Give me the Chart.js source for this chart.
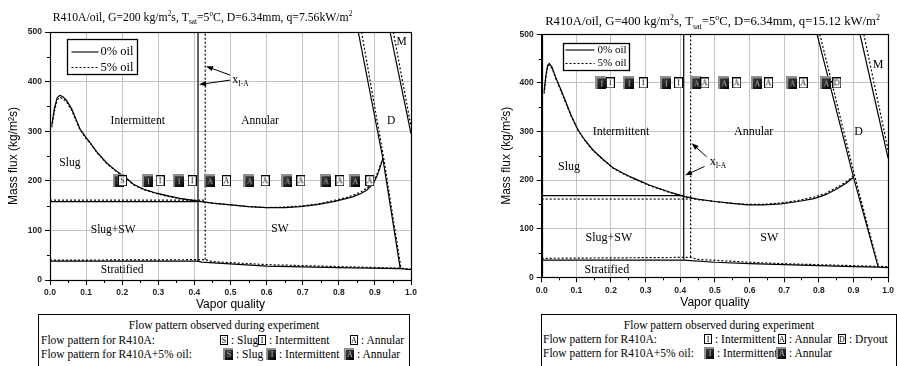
<!DOCTYPE html>
<html>
<head>
<meta charset="utf-8">
<script src="https://cdn.jsdelivr.net/npm/chart.js@4.4.1/dist/chart.umd.min.js"></script>
<style>
  body { margin:0; width:897px; height:366px; overflow:hidden; background:#fff; position:relative; }
  .panel { position:absolute; top:0; height:313px; }
  .key { position:absolute; top:314px; height:60px; border:1px solid #000; box-sizing:border-box;
         font:11.5px "Liberation Serif", serif; line-height:14px; color:#000; background:#fff; }
  .key div, .key span, .key canvas { position:absolute; white-space:nowrap; }
</style>
</head>
<body>
<div class="panel" style="left:0;width:450px"><canvas id="c200"></canvas></div>
<div class="panel" style="left:450px;width:447px"><canvas id="c400"></canvas></div>
<div class="key" id="k200" style="left:38px;width:372px"></div>
<div class="key" id="k400" style="left:541px;width:356px"></div>
<script>
// ---- G = 200 kg/m2s (left map) ----
var g200Trans0 = [[0.005,312],[0.012,345],[0.02,368],[0.027,372],[0.035,370],[0.046,362],[0.06,345],[0.083,305],[0.1,287],[0.111,277],[0.13,258],[0.157,236],[0.18,222],[0.212,205],[0.231,193],[0.26,183],[0.295,175],[0.33,169],[0.36,164.5],[0.41,159],[0.45,155],[0.508,151],[0.55,148],[0.6,146],[0.65,146],[0.692,148],[0.74,152],[0.785,158],[0.82,164],[0.84,168],[0.86,174],[0.877,181],[0.895,194],[0.905,208],[0.915,228],[0.922,245]];
var g200Trans5 = [[0.005,308],[0.012,340],[0.02,363],[0.027,368],[0.035,366],[0.046,359],[0.06,342],[0.083,303],[0.1,285],[0.111,276],[0.13,257],[0.157,235],[0.18,221],[0.212,204],[0.231,192],[0.26,182],[0.295,174],[0.33,168],[0.36,164],[0.41,159],[0.45,155],[0.508,151],[0.55,148],[0.6,146],[0.65,147],[0.692,149],[0.74,153],[0.785,160],[0.82,166],[0.84,171],[0.86,177],[0.877,185],[0.895,198],[0.905,212],[0.915,232],[0.924,248]];
var g200Dry0 = [[0.854,500],[0.922,245],[0.97,24]];
var g200Dry5 = [[0.863,500],[0.925,243],[0.972,25]];
var g200Mist0 = [[0.942,500],[1.0,295]];
var g200Mist5 = [[0.951,500],[1.0,310]];
var g200IA0 = [[0.41,37],[0.41,500]];
var g200IA5 = [[0.43,41],[0.43,500]];
var g200SlugSW0 = [[0,158],[0.41,158]];
var g200SlugSW5 = [[0,161],[0.43,161]];
var g200Strat0 = [[0,38],[0.41,38],[0.42,36],[0.6,28],[0.8,25],[0.97,23],[1.0,21]];
var g200Strat5 = [[0,40],[0.43,41],[0.45,37],[0.6,31],[0.8,27],[0.97,24],[1.0,22]];
var g200PureX = [0.201,0.305,0.394,0.489,0.596,0.695,0.803,0.886];
var g200PureObs = ['S','I','I','A','A','A','A','A'];
var g200OilX = [0.189,0.27,0.355,0.441,0.551,0.656,0.762,0.843];
var g200OilObs = ['S','I','I','A','A','A','A','A'];

// ---- G = 400 kg/m2s (right map) ----
var g400Trans0 = [[0.007,382],[0.012,415],[0.017,436],[0.022,440],[0.03,432],[0.04,412],[0.052,392],[0.07,360],[0.085,333],[0.105,303],[0.125,282],[0.148,262],[0.175,244],[0.205,226],[0.235,214],[0.262,205],[0.31,190],[0.367,176],[0.414,166],[0.45,161],[0.5,156],[0.55,152],[0.595,149],[0.64,149],[0.69,151],[0.74,156],[0.786,162],[0.82,170],[0.853,182],[0.88,194],[0.9,206]];
var g400Trans5 = [[0.007,378],[0.012,411],[0.017,432],[0.022,437],[0.03,430],[0.04,410],[0.052,390],[0.07,358],[0.085,332],[0.105,302],[0.125,281],[0.148,261],[0.175,243],[0.205,225],[0.235,213],[0.262,204],[0.31,189],[0.367,175],[0.414,165],[0.45,160],[0.5,156],[0.55,152],[0.595,150],[0.64,150],[0.69,153],[0.74,158],[0.786,165],[0.82,173],[0.853,185],[0.88,197],[0.902,210]];
var g400Dry0 = [[0.795,500],[0.9,206],[0.971,22]];
var g400Dry5 = [[0.803,500],[0.903,210],[0.972,23]];
var g400Mist0 = [[0.919,500],[1.0,245]];
var g400Mist5 = [[0.93,500],[1.0,262]];
var g400IA0 = [[0.41,36],[0.41,500]];
var g400IA5 = [[0.43,41],[0.43,500]];
var g400SlugSW0 = [[0,168],[0.41,168]];
var g400SlugSW5 = [[0,161],[0.43,161]];
var g400Strat0 = [[0,35.5],[0.41,35.5],[0.5,31],[0.6,28],[0.7,26],[0.8,24],[0.9,22],[0.97,21],[1.0,20]];
var g400Strat5 = [[0,39],[0.43,41],[0.45,37],[0.5,35],[0.6,31],[0.7,28],[0.8,26],[0.9,24],[1.0,22]];
var g400PureX = [0.198,0.293,0.395,0.471,0.563,0.655,0.755,0.852];
var g400PureObs = ['I','I','I','A','A','A','A','D'];
var g400OilX = [0.171,0.25,0.357,0.445,0.525,0.62,0.722,0.819];
var g400OilObs = ['I','I','I','A','A','A','A','A'];

var xTicks = [0,0.1,0.2,0.3,0.4,0.5,0.6,0.7,0.8,0.9,1.0];
var yTicks = [0,100,200,300,400,500];

var SERIF = '"Liberation Serif", "Times New Roman", serif';
var SANS = '"Liberation Sans", Arial, sans-serif';

// little square flow-pattern symbol
function makeIcon(letter, dark, w, h){
  var c = document.createElement('canvas');
  c.width = w; c.height = h;
  var x = c.getContext('2d');
  if(dark){
    x.fillStyle = '#909090'; x.fillRect(0,0,w,h);
    var g = x.createLinearGradient(2,2,w,h);
    g.addColorStop(0,'#404040'); g.addColorStop(1,'#000');
    x.fillStyle = g; x.fillRect(2,2,w-2,h-2);
    x.fillStyle = '#b8b8b8';
  }else{
    x.fillStyle = '#fff'; x.fillRect(0,0,w,h);
    x.strokeStyle = '#000'; x.lineWidth = 1; x.strokeRect(0.5,0.5,w-1,h-1);
    x.fillStyle = '#000';
  }
  x.font = '8px ' + SERIF;
  x.textAlign = 'center'; x.textBaseline = 'middle';
  x.fillText(letter, w/2 + (dark ? 1 : 0), h/2 + (dark ? 1 : 0.5));
  return c;
}

function lineSet(pts, dotted){
  return {
    data: pts.map(function(p){ return {x:p[0], y:p[1]}; }),
    showLine: true, borderColor:'#000', borderWidth: 1.2,
    borderDash: dotted ? [2,2] : [], pointRadius:0, tension:0, fill:false
  };
}
function markSet(xs, letters, yv, dark){
  return {
    data: xs.map(function(v){ return {x:v, y:yv}; }),
    showLine:false, pointRadius:5,
    pointStyle: letters.map(function(l){ return dark ? makeIcon(l, true, 11, 13) : makeIcon(l, false, 9, 11); })
  };
}

// draw text made of parts with sub/superscripts
function rich(ctx, parts, x, y, size, align){
  var widths = parts.map(function(p){
    ctx.font = (p.sub || p.sup ? size*0.62 : size) + 'px ' + SERIF;
    return ctx.measureText(p.t).width;
  });
  var total = widths.reduce(function(a,b){ return a+b; }, 0);
  var cx = align === 'center' ? x - total/2 : x;
  ctx.textAlign = 'left'; ctx.textBaseline = 'alphabetic';
  parts.forEach(function(p, i){
    ctx.font = (p.sub || p.sup ? size*0.62 : size) + 'px ' + SERIF;
    var dy = p.sup ? -size*0.42 : (p.sub ? size*0.28 : 0);
    ctx.fillText(p.t, cx, y + dy);
    cx += widths[i];
  });
  return total;
}

function arrow(ctx, x1, y1, x2, y2){
  var ang = Math.atan2(y2-y1, x2-x1), L = 7, W = 2.6;
  ctx.beginPath(); ctx.moveTo(x1,y1); ctx.lineTo(x2 - Math.cos(ang)*L*0.8, y2 - Math.sin(ang)*L*0.8); ctx.stroke();
  ctx.beginPath();
  ctx.moveTo(x2,y2);
  ctx.lineTo(x2 - Math.cos(ang)*L - Math.sin(ang)*W, y2 - Math.sin(ang)*L + Math.cos(ang)*W);
  ctx.lineTo(x2 - Math.cos(ang)*L + Math.sin(ang)*W, y2 - Math.sin(ang)*L - Math.cos(ang)*W);
  ctx.closePath(); ctx.fill();
}

var decor = {
  id:'decor',
  afterDraw: function(chart, args, o){
    var ctx = chart.ctx, a = chart.chartArea, sx = chart.scales.x, sy = chart.scales.y;
    var px = function(v){ return sx.getPixelForValue(v); }, py = function(v){ return sy.getPixelForValue(v); };
    ctx.save();
    ctx.strokeStyle = '#000'; ctx.fillStyle = '#000'; ctx.lineWidth = 1;
    // minor ticks
    ctx.beginPath();
    for(var i = 0; i < xTicks.length-1; i++){
      var mx = Math.round(px((xTicks[i]+xTicks[i+1])/2)) + 0.5;
      ctx.moveTo(mx, a.bottom); ctx.lineTo(mx, a.bottom+3);
    }
    for(var j = 0; j < yTicks.length-1; j++){
      var my = Math.round(py((yTicks[j]+yTicks[j+1])/2)) + 0.5;
      ctx.moveTo(a.left, my); ctx.lineTo(a.left-3, my);
    }
    ctx.stroke();
    // frame
    ctx.lineWidth = 1.2;
    ctx.strokeRect(Math.round(a.left)+0.5, Math.round(a.top)+0.5, Math.round(a.right-a.left), Math.round(a.bottom-a.top));
    // region names
    ctx.textAlign = 'center'; ctx.textBaseline = 'middle';
    ctx.font = o.labelSize + 'px ' + SERIF;
    o.labels.forEach(function(l){ ctx.fillText(l[0], px(l[1]), py(l[2])); });
    // x_I-A pointer
    ctx.lineWidth = 1;
    o.arrows.forEach(function(r){ arrow(ctx, px(r[0]), py(r[1]), px(r[2]), py(r[3])); });
    rich(ctx, [{t:'x'},{t:'I-A',sub:true}], px(o.xia[0]), py(o.xia[1]), 12, 'left');
    // line key inside the plot
    var k = o.key, lx = Math.round(a.left + k.dx) + 0.5, ly = Math.round(a.top + k.dy) + 0.5;
    ctx.fillStyle = '#fff'; ctx.fillRect(lx, ly, k.w, k.h);
    ctx.lineWidth = 1.3; ctx.strokeRect(lx, ly, k.w, k.h);
    ctx.lineWidth = 1.1;
    ctx.beginPath(); ctx.moveTo(lx+k.l0, ly+k.r1); ctx.lineTo(lx+k.l1, ly+k.r1); ctx.stroke();
    ctx.setLineDash([2,2]);
    ctx.beginPath(); ctx.moveTo(lx+k.l0, ly+k.r2); ctx.lineTo(lx+k.l1, ly+k.r2); ctx.stroke();
    ctx.setLineDash([]);
    ctx.fillStyle = '#000'; ctx.textAlign = 'left'; ctx.textBaseline = 'middle';
    ctx.font = k.size + 'px ' + SERIF;
    ctx.fillText('0% oil', lx+k.tx, ly+k.r1);
    ctx.fillText('5% oil', lx+k.tx, ly+k.r2);
    // heading, scaled to the measured width
    var w = rich(ctx, o.title, -9999, -9999, 12, 'left');
    rich(ctx, o.title, o.titleX, o.titleY, 12 * o.titleW / w, 'center');
    ctx.restore();
  }
};

function mapChart(id, sets, pad, yw, xh, tpad, deco){
  var tickFont = {family: SANS, size: 8.5, weight:'bold'};
  return new Chart(document.getElementById(id), {
    type:'scatter',
    data:{ datasets: sets },
    options:{
      responsive:true, maintainAspectRatio:false, animation:false,
      layout:{ padding: pad },
      plugins:{ legend:{display:false}, tooltip:{enabled:false}, decor: deco },
      scales:{
        x:{ type:'linear', min:0, max:1,
            afterBuildTicks: function(s){ s.ticks = xTicks.map(function(v){ return {value:v}; }); },
            ticks:{ callback:function(v){ return v.toFixed(1); }, font:tickFont, color:'#222', padding:3, maxRotation:0, autoSkip:false },
            grid:{ color:'#c3c3c3', tickColor:'#000', tickLength:5 },
            border:{ color:'#000' },
            title:{ display:true, text:'Vapor quality', font:{family:SANS, size:12}, color:'#000', padding:{top:0, bottom:tpad} },
            afterFit: function(s){ s.height = xh; } },
        y:{ type:'linear', min:0, max:500,
            afterBuildTicks: function(s){ s.ticks = yTicks.map(function(v){ return {value:v}; }); },
            ticks:{ font:tickFont, color:'#222', padding:3 },
            grid:{ color:'#c3c3c3', tickColor:'#000', tickLength:5 },
            border:{ color:'#000' },
            title:{ display:true, text:'Mass flux (kg/m\u00b2s)', font:{family:SANS, size:12}, color:'#000', padding:{top:0, bottom:0} },
            afterFit: function(s){ s.width = yw; } }
      }
    },
    plugins:[decor]
  });
}

function mapSets(pureX, pureObs, oilX, oilObs, yObs, pairs){
  var s = [markSet(pureX, pureObs, yObs, false), markSet(oilX, oilObs, yObs, true)];
  pairs.forEach(function(p){ s.push(lineSet(p[0], false)); s.push(lineSet(p[1], true)); });
  return s;
}

mapChart('c200',
  mapSets(g200PureX, g200PureObs, g200OilX, g200OilObs, 200,
    [[g200Trans0,g200Trans5],[g200Dry0,g200Dry5],[g200Mist0,g200Mist5],[g200IA0,g200IA5],[g200SlugSW0,g200SlugSW5],[g200Strat0,g200Strat5]]),
  {left:6, right:39, top:32, bottom:0}, 44, 33, 1.5,
  {
    title:[{t:'R410A/oil, G=200 kg/m'},{t:'2',sup:true},{t:'s, T'},{t:'sat',sub:true},{t:'=5'},{t:'o',sup:true},{t:'C, D=6.34mm, q=7.56kW/m'},{t:'2',sup:true}],
    titleX:202.5, titleY:21, titleW:300,
    labelSize:11.5,
    labels:[['Intermittent',0.243,321],['Annular',0.582,321],['D',0.945,321],['M',0.974,480],['Slug',0.055,235],['Slug+SW',0.175,100],['SW',0.637,103],['Stratified',0.2,20]],
    arrows:[[0.499,413,0.432,431],[0.499,403,0.413,394]],
    xia:[0.505,398],
    key:{dx:17, dy:7, w:70, h:35, l0:4, l1:31, tx:33, r1:12.5, r2:28, size:12.5}
  });

mapChart('c400',
  mapSets(g400PureX, g400PureObs, g400OilX, g400OilObs, 400,
    [[g400Trans0,g400Trans5],[g400Dry0,g400Dry5],[g400Mist0,g400Mist5],[g400IA0,g400IA5],[g400SlugSW0,g400SlugSW5],[g400Strat0,g400Strat5]]),
  {left:49.5, right:5.3, top:34.3, bottom:0}, 42.2, 35.7, 3,
  {
    title:[{t:'R410A/oil, G=400 kg/m'},{t:'2',sup:true},{t:'s, T'},{t:'sat',sub:true},{t:'=5'},{t:'o',sup:true},{t:'C, D=6.34mm, q=15.12 kW/m'},{t:'2',sup:true}],
    titleX:262.5, titleY:25, titleW:335,
    labelSize:12,
    labels:[['Intermittent',0.229,300],['Annular',0.612,300],['D',0.915,300],['M',0.971,437],['Slug',0.079,228],['Slug+SW',0.194,82],['SW',0.657,82],['Stratified',0.188,15]],
    arrows:[[0.476,248,0.433,276],[0.47,228,0.414,210]],
    xia:[0.485,231],
    key:{dx:21, dy:9, w:66, h:27, l0:2, l1:31, tx:34, r1:6.5, r2:20, size:11}
  });

// observation key under each map
function buildKey(id, title, titleY, rows){
  var box = document.getElementById(id);
  var t = document.createElement('div');
  t.textContent = title; t.style.left = '0'; t.style.width = '100%'; t.style.textAlign = 'center';
  t.style.top = (titleY - 7) + 'px';
  box.appendChild(t);
  rows.forEach(function(r){
    var lab = document.createElement('div');
    lab.textContent = r.label; lab.style.left = r.x + 'px'; lab.style.top = (r.y - 7) + 'px';
    box.appendChild(lab);
    r.items.forEach(function(it){
      var ic = it[1] ? makeIcon(it[0], true, 10, 12) : makeIcon(it[0], false, 8, 10);
      ic.style.left = Math.round(it[2] - ic.width/2) + 'px'; ic.style.top = Math.round(r.y - ic.height/2) + 'px';
      box.appendChild(ic);
      var sp = document.createElement('span');
      sp.textContent = it[3]; sp.style.left = Math.round(it[2] + ic.width/2 + 3) + 'px'; sp.style.top = (r.y - 7) + 'px';
      box.appendChild(sp);
    });
  });
}

buildKey('k200', 'Flow pattern observed during experiment', 10, [
  {label:'Flow pattern for R410A:', x:2, y:25, items:[['S',false,185,': Slug'],['I',false,223,': Intermittent'],['A',false,315,': Annular']]},
  {label:'Flow pattern for R410A+5% oil:', x:2, y:39, items:[['S',true,189,': Slug'],['I',true,232,': Intermittent'],['A',true,310,': Annular']]}
]);
buildKey('k400', 'Flow pattern observed during experiment', 10, [
  {label:'Flow pattern for  R410A:', x:1, y:24, items:[['I',false,166,': Intermittent'],['A',false,240,': Annular'],['D',false,300,': Dryout']]},
  {label:'Flow pattern for  R410A+5% oil:', x:1, y:38, items:[['I',true,167,': Intermittent'],['A',true,239,': Annular']]}
]);
</script>
</body>
</html>
